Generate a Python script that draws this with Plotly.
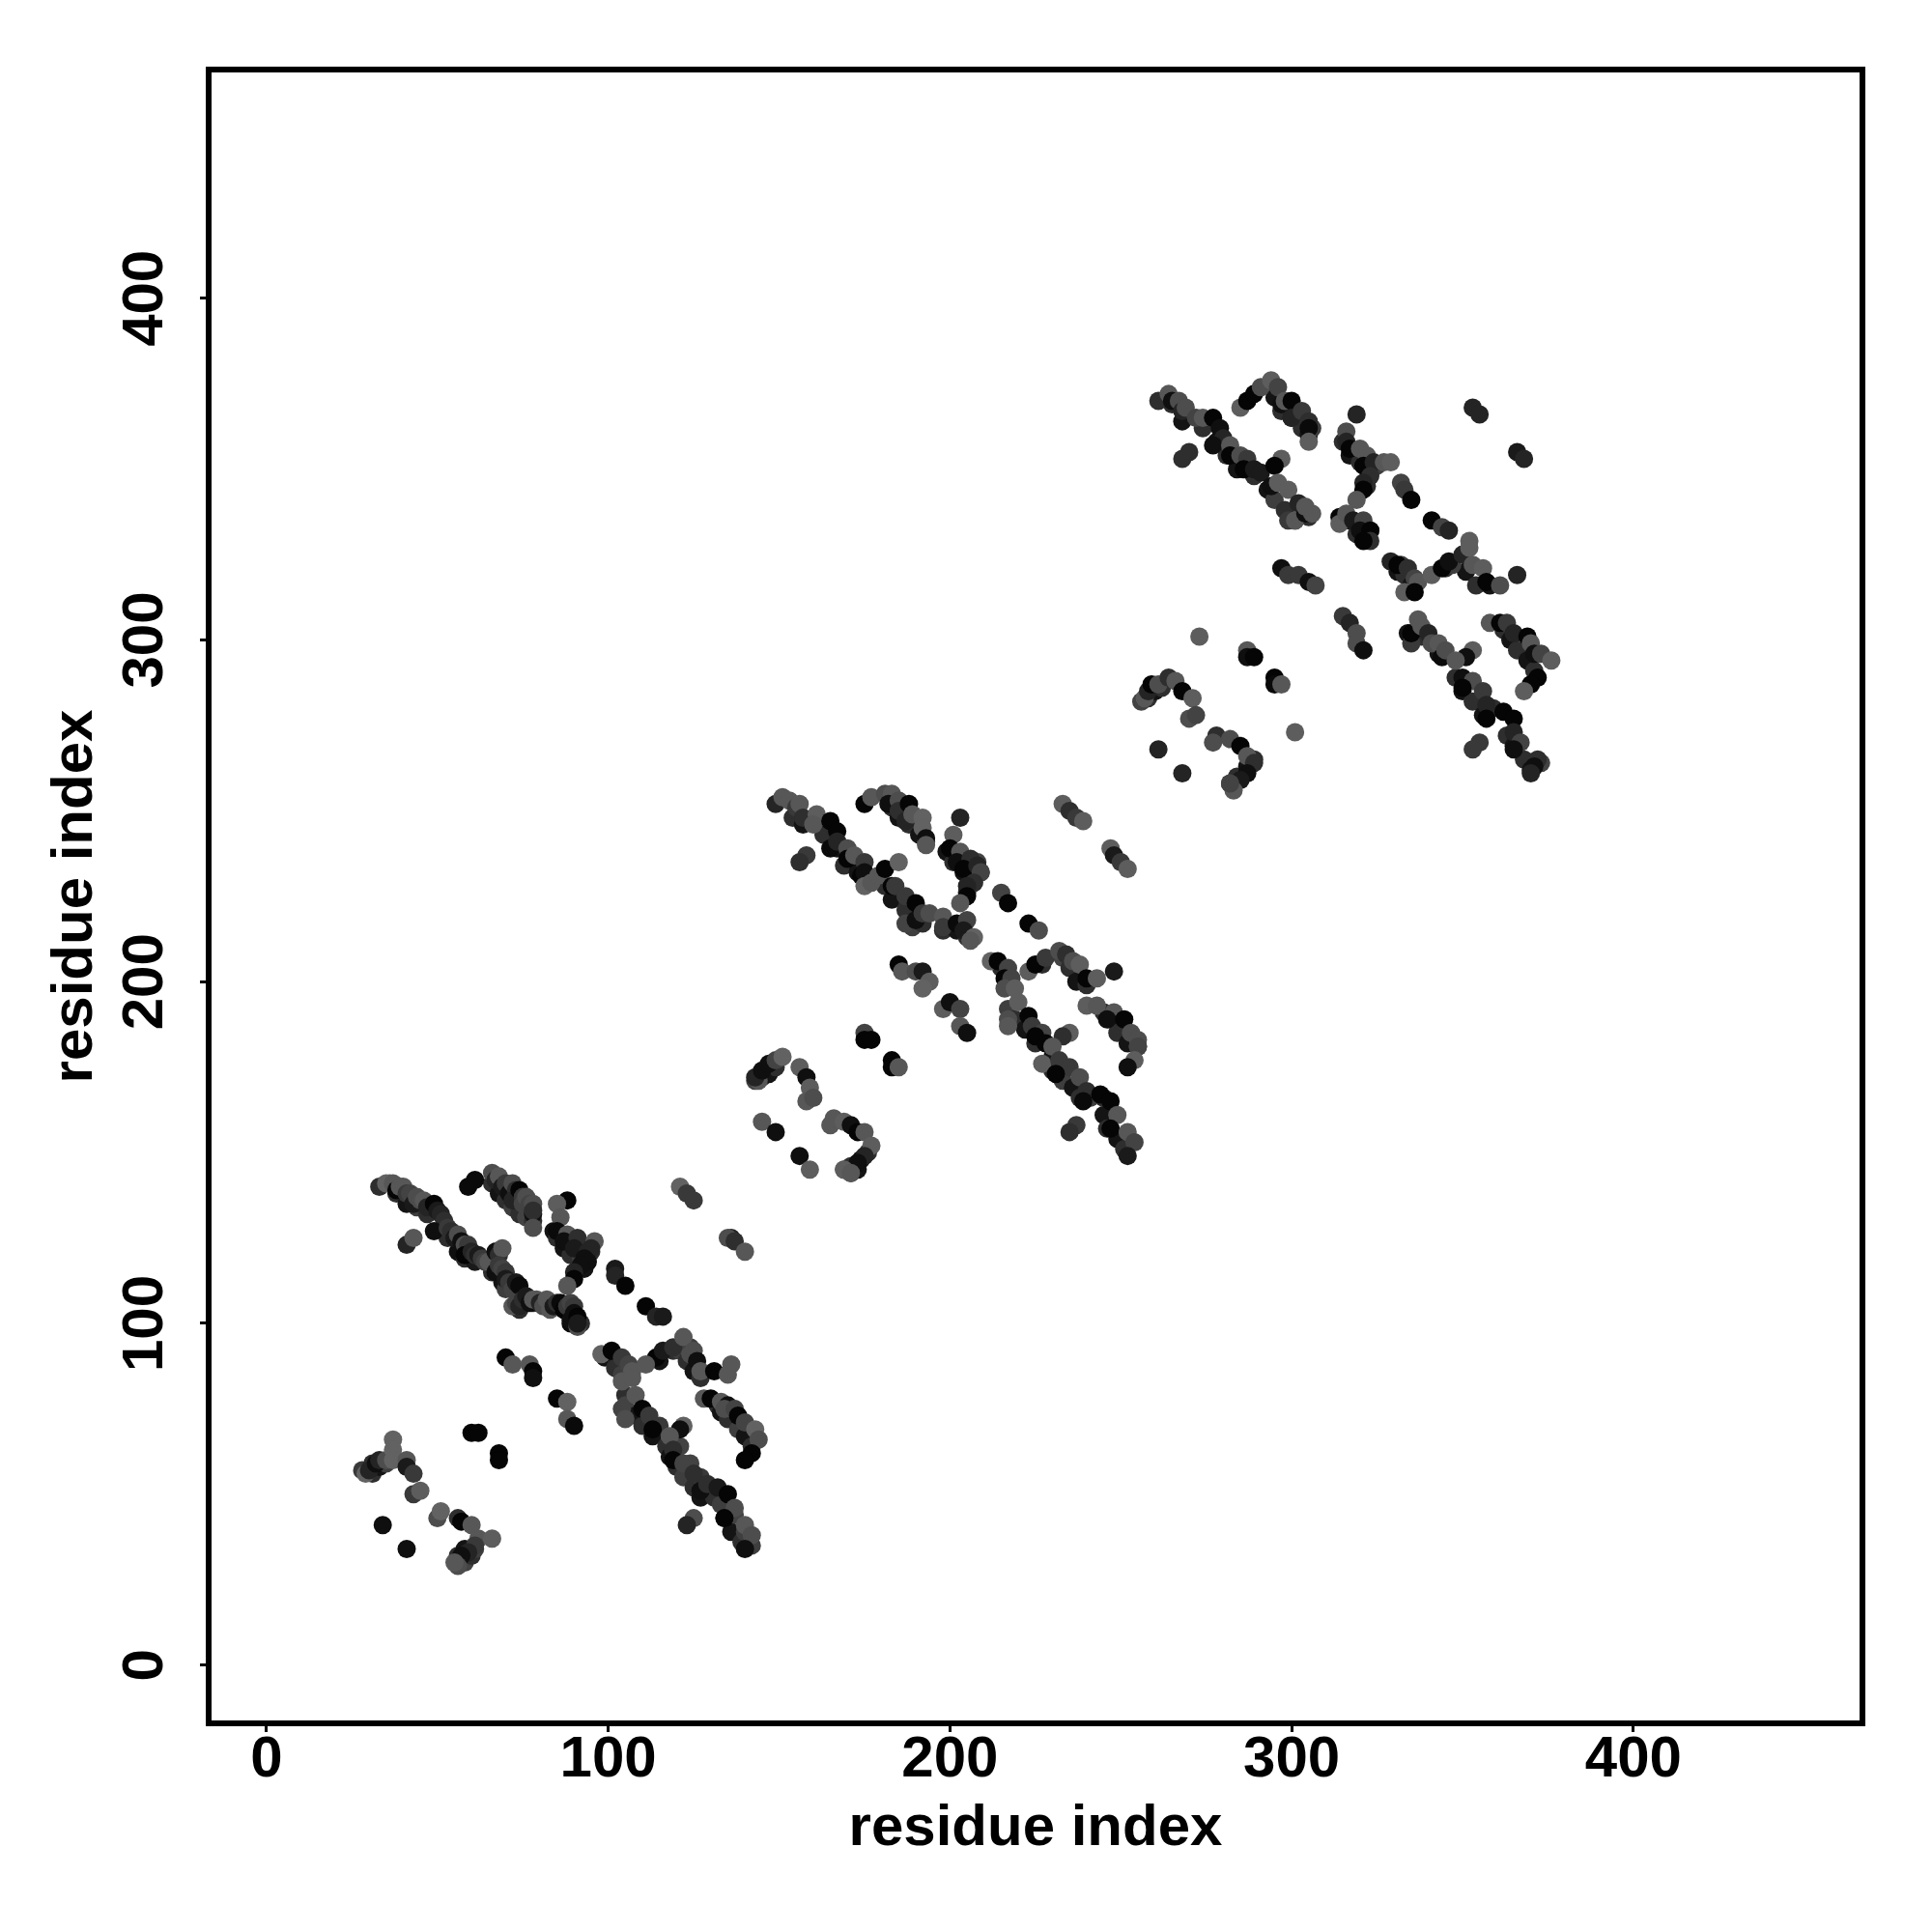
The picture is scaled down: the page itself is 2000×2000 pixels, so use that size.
import plotly.graph_objects as go

tick_vals = [0, 100, 200, 300, 400]
axis_label = "residue index"

# contact points along the lower edge of each thick band (drawn first)
a_edge_x = [38,41,44,47,52,53,56,58,61,66,69,70,74,78,80,86,89,92,
            66,68,70,72,74,76,78,
            84,85,87,89,92,95,91,93,
            99,102,104,105,105,108,110,113,117,118,120,122,125,127,131,133,134,136,139,142,137,140,121,124,127,
            115,119,121,123,125,127,124,
            132,133,135,138,140,142,
            31,33,35,28,31,58,60,61,56,58]
a_edge_y = [138,135,134,132,128,125,121,119,118,115,112,110,104,106,106,105,100,100,
            141,138,136,134,132,131,130,
            127,125,122,120,119,121,116,116,
            90,87,85,79,76,73,70,67,64,61,58,55,52,49,49,47,43,39,36,35,44,39,64,59,55,
            89,92,92,89,86,84,93,
            76,74,72,69,67,64,
            56,58,59,57,59,30,32,34,32,34]
a_edge_p = [.6,.85,.45,.6,.85,.6,.9,.6,.8,.6,.85,.45,.6,.6,.45,.6,.95,.6,
            .6,.85,.6,.45,.6,.4,.6,
            .85,.6,.85,.6,.45,.6,.6,.85,
            .85,.6,.45,.6,.4,.85,.6,.85,.6,.85,.6,.45,.6,.85,.6,.45,.6,.85,.6,.45,.4,.45,.4,.4,.5,
            .85,.6,.45,.6,.85,.6,.45,
            .6,.85,.6,.45,.85,.6,
            .6,.85,.45,.5,.6,.4,.6,.45,.6,.85]

b_edge_x = [154,157,163,167,169,173,175,181,183,187,189,192,198,202,205,
            183,185,188,191,193,
            199,201,204,207,209,205,208,
            215,217,217,219,222,225,230,230,233,236,238,241,245,246,249,251,245,
            227,233,235,237,240,
            245,247,249,252,255,
            143,145,147,149,169,171,174,176,173]
b_edge_y = [248,246,243,239,234,232,230,228,224,221,216,217,215,215,213,
            251,248,246,243,241,
            238,235,232,229,232,226,235,
            204,199,192,189,186,182,178,174,171,169,166,166,161,157,154,151,166,
            205,207,204,200,199,
            191,189,185,182,181,
            171,172,173,175,145,146,148,150,145]
b_edge_p = [.6,.85,.6,.85,.6,.85,.45,.6,.85,.6,.45,.6,.6,.85,.6,
            .6,.85,.6,.85,.45,
            .85,.6,.85,.6,.4,.6,.4,
            .6,.85,.45,.6,.85,.6,.85,.6,.45,.85,.6,.45,.85,.6,.85,.6,.6,
            .6,.4,.6,.85,.6,
            .6,.85,.6,.85,.45,
            .4,.6,.85,.6,.4,.6,.85,.6,.85]

c_edge_x = [265,268,274,278,281,284,289,293,295,298,301,305,
            295,297,300,303,305,306,
            315,317,320,323,325,322,
            317,319,322,323,
            331,333,335,332,
            345,351,354,358,347,
            334,338,343,348,350,353,356,363,365,368,370,373,359,
            362,364,366,369,371,
            256,258,260,262,282,284,287,289,282]
c_edge_y = [369,364,362,358,354,350,348,344,341,338,335,336,
            371,367,365,362,360,362,
            358,354,352,349,351,345,
            335,331,330,332,
            320,319,316,322,
            321,320,316,316,322,
            302,301,296,289,285,282,278,272,269,265,262,264,280,
            303,300,297,294,291,
            282,283,285,286,258,260,263,265,258]
c_edge_p = [.6,.85,.6,.85,.6,.85,.6,.85,.45,.6,.85,.6,
            .85,.6,.85,.6,.85,.45,
            .6,.85,.6,.85,.45,.6,
            .85,.6,.85,.45,
            .85,.6,.85,.45,
            .6,.85,.6,.85,.45,
            .85,.6,.85,.6,.85,.6,.85,.6,.85,.6,.85,.4,.6,
            .6,.85,.6,.85,.6,
            .4,.6,.85,.6,.4,.6,.85,.6,.4]

# contact points per repeat: residue i, residue j, contact strength (0 weak .. 1 strong)
a_x = [33,35,36,37,38,39,40,41,42,43,44,45,46,47,49,50,51,52,49,53,54,55,56,57,58,59,58,60,61,62,63,64,65,
       67,68,69,67,68,69,70,70,71,72,73,74,72,73,74,75,76,77,78,79,80,81,82,83,84,85,86,87,88,89,90,89,90,91,91,91,
       59,61,66,67,68,69,70,71,72,73,72,74,75,75,76,77,78,78,78,78,
       88,85,86,85,88,87,91,90,94,96,95,93,94,92,90,90,88,
       41,43,121,123,125,136,135,137,140,102,102,105,111,114,116,
       98,101,104,106,107,104,107,108,104,105,110,112,115,113,122,121,118,119,119,122,125,127,129,132,135,137,134,140,142,140,125,123,
       114,116,111,119,122,124,125,126,127,131,136,135,
       128,130,133,135,134,137,138,140,143,144,142,140,
       70,72,77,78,78,85,88,88,90,60,62,68,68,
       29,30,32,33,35,37,37,37,41,41,43,43,45,50,51,56,57,60,62,66,61,59,57,56,55,34,41]
a_y = [140,141,141,141,139,140,140,138,138,135,137,136,136,134,135,133,132,130,127,128,127,125,126,124,123,123,120,121,120,120,119,118,118,
       121,120,122,115,117,116,115,113,112,110,112,111,105,106,105,107,108,106,107,107,106,105,107,104,105,106,106,104,105,106,105,101,103,102,99,100,
       140,142,144,142,143,140,141,138,141,139,136,139,137,135,137,135,132,135,133,128,
       136,135,131,127,126,124,125,122,121,124,122,119,118,117,115,113,111,
       123,125,140,138,136,125,125,124,121,116,114,111,105,102,102,
       91,92,90,88,86,83,84,79,75,72,75,73,70,69,70,69,67,63,60,59,56,51,53,52,50,46,43,41,38,34,43,41,
       90,92,88,93,96,91,92,89,86,86,88,85,
       78,78,77,76,75,75,73,71,69,66,62,60,
       90,88,88,86,84,78,77,72,70,68,68,62,60,
       56,57,59,60,60,66,63,60,60,58,56,50,51,43,45,43,42,41,37,37,35,33,32,29,30,41,34]
a_p = [.6,.1,.1,.2,1,.2,.2,.5,.4,.8,.3,.3,.2,.7,1,.8,.7,.6,.9,.5,.6,.8,.3,.9,.3,.5,1,.7,.6,.8,.5,.4,.2,
       .9,.6,.2,.9,.5,.4,.5,.8,.5,.4,.8,.95,.2,.4,.7,.6,.8,.9,.2,.2,.7,.3,.2,.2,.8,.6,.95,1,.5,.4,.5,.9,.9,1,.3,.8,
       .95,.95,.3,.7,.2,.8,.5,.9,.3,.6,.7,1,.5,.4,.3,.4,.9,.3,.6,.3,
       1,.15,.2,.95,.2,.9,.6,.8,.7,.2,.7,.9,.9,.9,.7,1,.2,
       .7,.2,.1,.5,.5,.7,.3,.6,.2,.8,.7,1,1,.7,.8,
       .1,1,.5,.4,.2,.2,.2,.2,.4,.3,1,.5,.5,1,.1,.9,.2,.6,1,.4,.6,.9,.6,.8,1,.3,1,.2,.3,.9,.3,.7,
       1,.8,.2,.6,.2,.3,.3,.9,.2,1,.2,.2,
       .2,1,.2,.9,.3,.4,1,.4,.1,.3,1,1,
       1,.2,.2,1,.9,1,.1,.2,.95,1,1,1,1,
       .1,.7,.9,.7,.3,.1,.1,.1,.2,.8,.5,.5,.15,.3,.1,.6,1,.2,.2,.15,.5,.7,.9,.3,.2,.9,.9]

b_x = [149,151,153,155,156,157,161,160,165,167,165,167,170,170,172,175,174,175,175,177,179,181,185,183,184,187,190,187,190,192,194,198,198,202,205,204,207,206,
       175,177,181,183,182,185,185,188,187,189,192,192,193,193,
       203,201,200,203,202,206,204,208,209,207,205,205,203,
       233,235,237,239,247,248,250,252,215,217,223,226,158,156,
       212,214,217,216,218,216,219,220,217,217,223,224,227,225,235,233,228,230,227,232,235,231,238,240,239,244,247,249,247,252,254,252,237,235,
       223,225,228,232,234,236,238,240,243,248,
       240,243,248,246,251,253,255,255,254,252,
       185,186,190,192,194,192,198,200,203,203,205,175,175,177,183,183,185,
       144,143,145,147,149,151,156,158,159,158,160,145,149,156,159,
       165,166,169,171,173,175,177,175,173,171,169,171]
b_y = [252,254,253,251,252,248,249,246,247,244,239,241,239,236,237,235,231,232,228,229,231,233,235,228,228,225,223,217,218,220,220,219,216,217,218,215,213,212,
       252,254,255,255,252,253,250,252,247,249,248,245,242,240,
       248,243,239,238,235,236,233,234,232,229,228,225,223,
       252,250,248,247,239,237,235,233,226,223,217,215,237,235,
       206,206,204,201,201,198,198,194,189,187,190,187,185,184,185,184,182,181,176,177,175,173,172,168,165,167,165,161,157,156,153,149,158,156,
       203,205,207,209,208,206,205,201,201,203,
       193,193,191,189,189,185,183,181,177,175,
       205,203,203,203,200,198,192,194,192,187,185,185,183,183,177,175,175,
       171,172,174,176,177,178,175,172,169,165,166,159,156,149,145,
       158,160,159,158,156,156,152,149,147,144,145,144]
b_p = [.7,.2,.2,.5,.2,.6,.15,.2,1,1,.95,.7,.3,1,.2,.5,1,.9,.1,.2,.2,1,.1,1,.5,.5,1,.4,.9,.5,.3,.2,.5,.95,.4,.8,.1,.2,
       1,.2,.3,.2,.9,.3,.6,1,.7,.2,.1,.1,.9,.2,
       .7,.15,1,.2,.9,.6,1,.7,.4,.6,.7,1,.2,
       .15,.6,.5,.15,.15,.8,.5,.15,.4,1,1,.3,.5,.6,
       .1,1,.4,1,.4,.3,.15,.15,.3,.2,1,.5,.4,1,.15,.6,1,.2,.15,.5,.5,1,.3,.6,.95,1,1,.2,1,.2,.4,.8,.5,.6,
       .15,1,.5,.3,.6,.3,.15,1,.15,.8,
       .15,.2,.2,.9,1,.3,.3,.4,.15,.9,
       1,.2,.3,.8,.15,.1,.15,.9,.4,.2,.9,.4,1,1,1,1,.2,
       .2,.7,.9,.9,.4,.1,.15,.9,.15,.2,.3,.2,.9,.9,.15,
       .2,.2,.15,.9,1,.2,.15,.7,.9,.9,.15,.2]

c_x = [261,264,265,267,268,269,272,274,277,279,280,277,282,282,285,287,286,289,291,297,295,294,296,299,302,299,301,304,306,304,
       285,287,289,291,294,296,297,298,300,300,303,305,305,305,
       319,316,316,317,320,322,321,324,327,329,323,321,321,319,
       353,355,366,368,332,333,335,341,344,346,270,268,
       314,314,316,318,321,320,323,323,321,
       329,331,334,336,337,333,336,
       341,344,346,350,352,352,353,356,357,361,366,
       297,299,302,305,307,
       315,317,319,319,321,
       335,335,337,338,340,341,343,344,345,353,351,348,350,353,350,356,357,357,362,365,365,367,365,372,371,370,355,353,
       358,361,363,365,369,370,371,373,376,372,370,368,
       257,258,259,261,264,266,268,271,270,272,278,277,282,285,287,289,287,285,283,282,
       261,268,273,301,287,287,289,295,295,297]
c_y = [370,372,370,370,367,368,365,365,365,362,359,357,357,354,354,353,350,350,349,353,351,345,346,344,340,335,335,337,337,339,
       368,370,372,374,376,374,369,370,370,365,367,364,362,358,
       366,361,358,356,356,354,351,352,352,352,348,346,344,341,
       368,366,355,353,346,344,341,335,333,332,355,353,
       336,334,337,335,335,332,332,329,329,
       323,322,321,318,317,314,314,
       319,321,323,325,329,327,322,321,317,316,319,
       321,319,319,317,316,
       307,305,302,299,297,
       299,302,306,304,302,299,299,295,297,297,295,294,289,288,286,285,281,277,279,277,273,270,268,265,263,261,270,268,
       305,305,305,302,301,299,296,296,294,289,287,285,
       283,285,287,287,289,288,285,283,277,278,272,270,271,269,266,264,261,259,256,258,
       268,261,301,273,297,295,295,289,287,287]
c_p = [.6,.2,.9,.3,.7,.3,.4,.2,1,.9,.7,.9,.2,1,.3,.5,1,.8,.8,.15,1,.9,.15,.15,.7,.5,.2,.9,.2,.2,
       .15,1,1,.3,.15,.4,.9,.2,1,.7,.5,.6,.95,.15,
       .7,.3,.7,1,.2,.2,1,.7,.2,.15,.6,.7,1,.2,
       .7,.7,.8,.7,.4,.5,1,1,.4,.7,.6,.6,
       1,.15,.2,.8,.4,.9,1,.6,1,
       .7,1,.6,.4,.2,.15,1,
       .15,1,.9,.7,.15,.15,.2,.15,1,.3,.7,
       .9,.5,.5,.9,.4,
       .5,.7,.3,.3,.9,
       .5,1,.2,.2,.7,.3,.2,.95,.3,.15,.9,.2,.9,.3,1,.5,.7,1,1,1,.7,.4,.9,.6,.9,.7,.5,.5,
       .2,1,.5,.7,1,.2,.9,.4,.15,1,1,.15,
       .2,.7,1,.3,.6,.2,1,.15,.3,.4,.6,.3,.3,1,.2,.6,.9,.8,.2,.4,
       .7,.7,.15,.15,.2,.9,1,1,.95,.2]

for cols in ((a_x, a_y, a_p), (b_x, b_y, b_p), (c_x, c_y, c_p),
             (a_edge_x, a_edge_y, a_edge_p), (b_edge_x, b_edge_y, b_edge_p), (c_edge_x, c_edge_y, c_edge_p)):
    assert len(cols[0]) == len(cols[1]) == len(cols[2]), [len(c) for c in cols]

fig = go.Figure(go.Scatter(
    x=a_edge_x + b_edge_x + c_edge_x + a_x + b_x + c_x,
    y=a_edge_y + b_edge_y + c_edge_y + a_y + b_y + c_y,
    mode="markers",
    marker=dict(
        size=19,
        color=a_edge_p + b_edge_p + c_edge_p + a_p + b_p + c_p,
        cmin=0, cmax=1,
        colorscale=[[0, "#6c6c6c"], [1, "#050505"]],
        line=dict(width=0),
        showscale=False,
    ),
    hoverinfo="skip",
))

font_bold = dict(family="Liberation Sans", size=60, color="black", weight=700)
axis_common = dict(
    tickmode="array",
    tickvals=tick_vals,
    ticktext=[str(v) for v in tick_vals],
    ticks="outside", ticklen=6, tickwidth=3, tickcolor="black",
    showline=True, linewidth=6, linecolor="black", mirror=True,
    showgrid=False, zeroline=False,
    tickfont=font_bold,
)

fig.update_layout(
    width=2000, height=2000,
    paper_bgcolor="white", plot_bgcolor="white",
    margin=dict(l=211, r=83, t=67, b=227, autoexpand=False),
    showlegend=False,
    xaxis=dict(range=[-16.1, 466.2], ticklabelstandoff=-26,
               title=dict(text=axis_label, font=font_bold, standoff=19), **axis_common),
    yaxis=dict(range=[-16.2, 466.1], tickangle=-90, ticklabelstandoff=15, ticklabelshift=9,
               title=dict(text=axis_label, font=font_bold, standoff=1), **axis_common),
)

fig.write_html("out.html")
